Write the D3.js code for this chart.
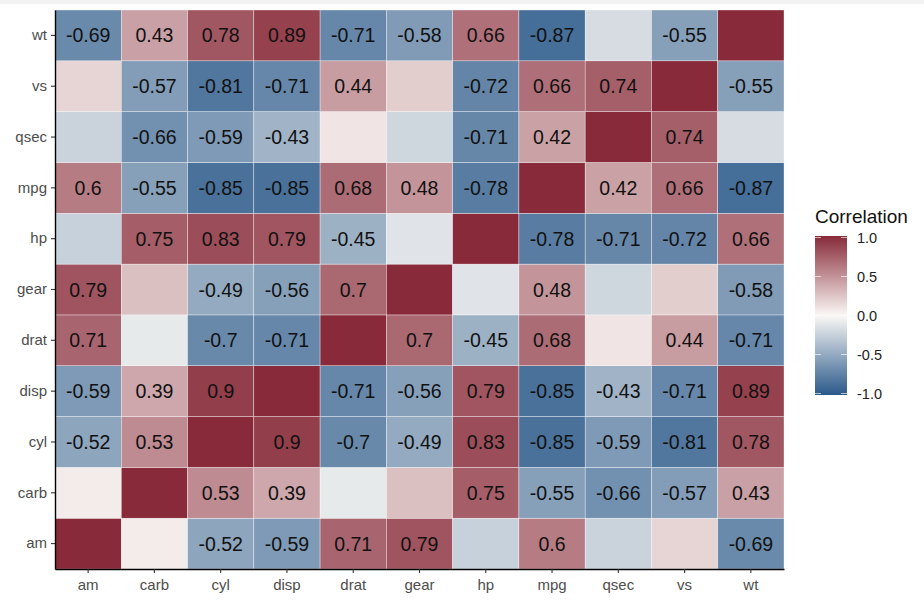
<!DOCTYPE html>
<html><head><meta charset="utf-8">
<script src="https://cdn.jsdelivr.net/npm/d3@7"></script>
<style>body{margin:0;background:#fff;}svg{display:block;font-family:"Liberation Sans",Arial,sans-serif;}</style>
</head><body>
<svg id="c" width="924" height="614"></svg>
<script>
const variables = ["am","carb","cyl","disp","drat","gear","hp","mpg","qsec","vs","wt"];
const corrAm   = [1, 0.058, -0.523, -0.591, 0.713, 0.794, -0.243, 0.600, -0.230, 0.168, -0.692];
const corrCarb = [0.058, 1, 0.527, 0.394, -0.091, 0.274, 0.750, -0.551, -0.656, -0.570, 0.428];
const corrCyl  = [-0.523, 0.527, 1, 0.902, -0.700, -0.493, 0.832, -0.852, -0.591, -0.811, 0.782];
const corrDisp = [-0.591, 0.394, 0.902, 1, -0.710, -0.556, 0.791, -0.848, -0.434, -0.710, 0.888];
const corrDrat = [0.713, -0.091, -0.700, -0.710, 1, 0.700, -0.449, 0.681, 0.091, 0.440, -0.712];
const corrGear = [0.794, 0.274, -0.493, -0.556, 0.700, 1, -0.126, 0.480, -0.213, 0.206, -0.583];
const corrHp   = [-0.243, 0.750, 0.832, 0.791, -0.449, -0.126, 1, -0.776, -0.708, -0.723, 0.659];
const corrMpg  = [0.600, -0.551, -0.852, -0.848, 0.681, 0.480, -0.776, 1, 0.419, 0.664, -0.868];
const corrQsec = [-0.230, -0.656, -0.591, -0.434, 0.091, -0.213, -0.708, 0.419, 1, 0.745, -0.175];
const corrVs   = [0.168, -0.570, -0.811, -0.710, 0.440, 0.206, -0.723, 0.664, 0.745, 1, -0.554];
const corrWt   = [-0.692, 0.428, 0.782, 0.888, -0.712, -0.583, 0.659, -0.868, -0.175, -0.554, 1];
const matrix = [corrAm, corrCarb, corrCyl, corrDisp, corrDrat, corrGear, corrHp, corrMpg, corrQsec, corrVs, corrWt];
const legendTicks = [-1, -0.5, 0, 0.5, 1];
const sigThreshold = 0.349; // |r| needed for p < 0.05 with n = 32

const svg = d3.select("#c");
svg.append("rect").attr("x",0).attr("y",0).attr("width",924).attr("height",4).attr("fill","#f2f2f2");

const L = 55, R = 784, T = 10, B = 569;
const x = d3.scaleBand().domain(variables).range([L, R]).padding(0);
const y = d3.scaleBand().domain(variables).range([B, T]).padding(0);
const color = d3.scaleLinear().domain([-1, 0, 1]).range(["#2A598A", "#FAF8F5", "#882A39"]).interpolate(d3.interpolateRgb);

const cells = [];
variables.forEach((rv, i) => variables.forEach((cv, j) => cells.push({row: rv, col: cv, r: matrix[i][j], diag: i === j})));

svg.append("g").selectAll("rect").data(cells).join("rect")
  .attr("x", d => x(d.col)).attr("y", d => y(d.row))
  .attr("width", x.bandwidth()).attr("height", y.bandwidth())
  .attr("fill", d => color(d.r)).attr("stroke", "#fff").attr("stroke-width", 0.5).attr("stroke-opacity", 0.7);

svg.append("g").selectAll("text").data(cells.filter(d => !d.diag && Math.abs(d.r) > sigThreshold)).join("text")
  .attr("x", d => x(d.col) + x.bandwidth()/2).attr("y", d => y(d.row) + y.bandwidth()/2)
  .attr("text-anchor", "middle").attr("dy", "0.36em")
  .attr("font-size", 19.5).attr("fill", "#111")
  .text(d => String(+d.r.toFixed(2)));

// axes
const xAxis = svg.append("g").attr("transform", `translate(0,${B})`).call(d3.axisBottom(x).tickSize(4).tickSizeOuter(0));
const yAxis = svg.append("g").attr("transform", `translate(${L},0)`).call(d3.axisLeft(y).tickSize(4).tickSizeOuter(0));
[xAxis, yAxis].forEach(a => {
  a.select(".domain").attr("stroke", "#000").attr("stroke-width", 1.4);
  a.selectAll(".tick line").attr("stroke", "#333").attr("stroke-width", 1.1);
  a.selectAll(".tick text").attr("font-size", 15).attr("fill", "#4d4d4d").attr("font-family", "'Liberation Sans', Arial, sans-serif");
});
xAxis.selectAll(".tick text").attr("dy", "1.0em").attr("y", 6);
yAxis.selectAll(".tick text").attr("x", -8);

// legend
const lx = 815, lw = 32, lTop = 237.5, lBot = 393.5;
const ly = d3.scaleLinear().domain([-1, 1]).range([lBot, lTop]);
svg.append("text").attr("x", lx).attr("y", 223).attr("font-size", 19).attr("fill", "#111").text("Correlation");
const defs = svg.append("defs");
const grad = defs.append("linearGradient").attr("id", "lg").attr("x1", 0).attr("x2", 0).attr("y1", 1).attr("y2", 0);
d3.range(0, 1.0001, 0.05).forEach(t => grad.append("stop").attr("offset", t).attr("stop-color", color(-1 + 2*t)));
svg.append("rect").attr("x", lx).attr("y", lTop - 1.5).attr("width", lw).attr("height", lBot - lTop + 3).attr("fill", "url(#lg)");
const lg = svg.append("g");
legendTicks.forEach(v => {
  lg.append("line").attr("x1", lx).attr("x2", lx + 6).attr("y1", ly(v)).attr("y2", ly(v)).attr("stroke", "#fff").attr("stroke-width", 0.8).attr("opacity", 0.8);
  lg.append("line").attr("x1", lx + lw - 6).attr("x2", lx + lw).attr("y1", ly(v)).attr("y2", ly(v)).attr("stroke", "#fff").attr("stroke-width", 0.8).attr("opacity", 0.8);
  lg.append("text").attr("x", lx + lw + 10).attr("y", ly(v)).attr("dy", "0.36em").attr("font-size", 14.5).attr("fill", "#222").text(d3.format(".1f")(v).replace("−", "-"));
});
</script>
</body></html>
